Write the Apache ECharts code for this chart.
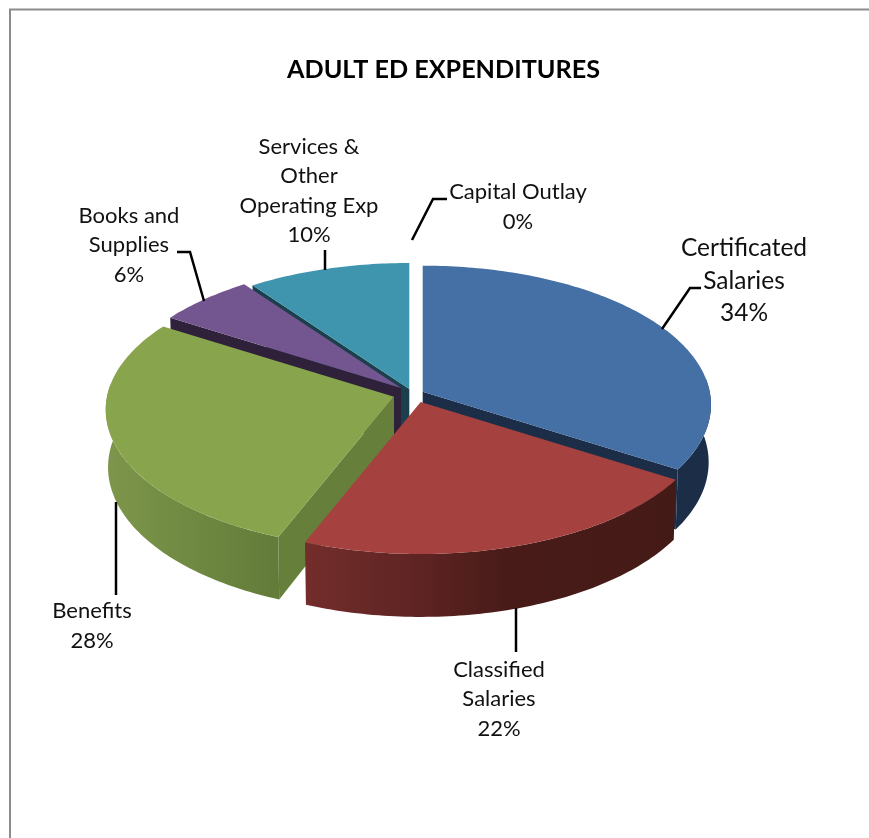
<!DOCTYPE html>
<html>
<head>
<meta charset="utf-8">
<title>Adult Ed Expenditures</title>
<style>
  html, body { margin: 0; padding: 0; background: #fff; }
  #chart { width: 869px; height: 838px; }
</style>
<script src="https://cdn.jsdelivr.net/npm/echarts@6/dist/echarts.min.js"></script>
</head>
<body>
<div id="chart"></div>
<script>
// Expenditure shares, clockwise from twelve o'clock
const categories = ['Certificated\nSalaries', 'Classified\nSalaries', 'Benefits',
  'Books and\nSupplies', 'Services &\nOther\nOperating Exp', 'Capital Outlay'];
const values = [34, 22, 28, 6, 10, 0];

const topColors  = ['#4570A6', '#A5423F', '#88A44C', '#735590', '#3F95AE', '#C0C0C0'];
const faceColors = ['#1B2D47', '#441A17', '#667F3B', '#2E2139', '#1B3F4C', '#808080'];
const wallStops = [
  [[0, '#1B2D47'], [1, '#1B2D47']],
  [[0, '#732D2B'], [0.3, '#5E2423'], [0.55, '#481B18'], [1, '#441A17']],
  [[0, '#7E964B'], [0.5, '#6F8942'], [1, '#637B39']],
  [[0, '#2E2139'], [1, '#2E2139']],
  [[0, '#1B3F4C'], [1, '#1B3F4C']],
  [[0, '#808080'], [1, '#808080']]
];

// Pie projection: a tilted disc seen in mild perspective
const pie = { cx: 410, cy: 395, radius: 287, tilt: 137.8, depth: 57, perspective: 0.0935, bottomScale: 0.992 };
// Explosion of each slice away from the pie's centre, in pixels
const sliceShift = [[12.7, -3.3], [10.7, 7], [-16, 1.7], [-9, -7], [-0.7, -6], [0, 0]];
// Farther slices are painted first so nearer ones cover them
const paintOrder = [4, 3, 0, 2, 1, 5];

// Label anchors and their elbow leader lines
const labelLayout = [
  { x: 744, y: 281, size: 24.5, lineHeight: 32.5, leader: [[662, 329], [690, 288], [701, 288]] },
  { x: 499, y: 699, size: 22, lineHeight: 29.5, leader: [[516, 608], [516, 652]] },
  { x: 92,  y: 626, size: 22, lineHeight: 29.5, leader: [[116, 502], [116, 595]] },
  { x: 129, y: 245, size: 22, lineHeight: 29.5, leader: [[204, 301], [190, 252], [177, 252]] },
  { x: 309, y: 191, size: 22, lineHeight: 29.5, leader: [[325, 270], [325, 250]] },
  { x: 518, y: 207, size: 22, lineHeight: 29.5, leader: [[412, 240], [433, 199], [447, 199]] }
];

const total = values.reduce((a, b) => a + b, 0);
const startAngles = [];
values.reduce((sum, v, i) => { startAngles[i] = sum / total * 360; return sum + v; }, 0);

const rad = d => d * Math.PI / 180;

// Projects a disc point (polar angle, radial fraction) at the top or bottom of the slab
function project(i, angle, r, isBottom) {
  const X = r * Math.sin(rad(angle));
  const Y = -r * Math.cos(rad(angle));
  const s = 1 / (1 - pie.perspective * Y);
  const sx = isBottom ? pie.bottomScale : 1;
  return [
    pie.cx + sliceShift[i][0] + pie.radius * X * s * sx,
    pie.cy + sliceShift[i][1] + (pie.tilt * Y + (isBottom ? pie.depth : 0)) * s
  ];
}

function arc(i, a0, a1, isBottom) {
  const pts = [];
  const steps = Math.max(2, Math.ceil(Math.abs(a1 - a0)));
  for (let k = 0; k <= steps; k++) {
    pts.push(project(i, a0 + (a1 - a0) * k / steps, 1, isBottom));
  }
  return pts;
}

function cutFace(i, angle) {
  return {
    type: 'polygon',
    shape: { points: [project(i, angle, 0, false), project(i, angle, 1, false),
                      project(i, angle, 1, true), project(i, angle, 0, true)] },
    style: { fill: faceColors[i] }
  };
}

// Only the part of the rim turned toward the viewer is drawn
const rimLimit = Math.asin(pie.perspective) * 180 / Math.PI;
const rimFrom = 90 - rimLimit, rimTo = 270 + rimLimit;

function renderSlice(params, api) {
  const i = api.value(0);
  const v = api.value(1);
  if (!v) return { type: 'group', children: [] };
  const a0 = startAngles[i];
  const a1 = a0 + v / total * 360;
  const children = [];

  if (Math.sin(rad(a0)) < -1e-6) children.push(cutFace(i, a0));
  if (Math.sin(rad(a1)) > 1e-6) children.push(cutFace(i, a1));

  const w0 = Math.max(a0, rimFrom), w1 = Math.min(a1, rimTo);
  if (w1 > w0) {
    children.push({
      type: 'polygon',
      shape: { points: arc(i, w0, w1, false).concat(arc(i, w1, w0, true)) },
      style: { fill: new echarts.graphic.LinearGradient(0, 0, 1, 0,
        wallStops[i].map(s => ({ offset: s[0], color: s[1] }))) }
    });
  }

  children.push({
    type: 'polygon',
    shape: { points: [project(i, a0, 0, false)].concat(arc(i, a0, a1, false)) },
    style: { fill: topColors[i] }
  });
  return { type: 'group', children };
}

function renderLabel(params, api) {
  const i = api.value(0);
  const layout = labelLayout[i];
  return {
    type: 'group',
    children: [
      {
        type: 'polyline',
        shape: { points: layout.leader },
        style: { stroke: '#000', lineWidth: 2.5, fill: 'none' }
      },
      {
        type: 'text',
        style: {
          x: layout.x, y: layout.y,
          text: categories[i] + '\n' + api.value(1) + '%',
          align: 'center', verticalAlign: 'middle',
          fontFamily: 'Lato', fontSize: layout.size, lineHeight: layout.lineHeight,
          fill: '#111'
        }
      }
    ]
  };
}

const chart = echarts.init(document.getElementById('chart'), null, { renderer: 'canvas' });
chart.setOption({
  animation: false,
  backgroundColor: '#fff',
  title: {
    text: 'ADULT ED EXPENDITURES',
    left: 282, top: 52,
    textStyle: { fontFamily: 'Lato', fontWeight: 'bold', fontSize: 25.2, color: '#000' }
  },
  graphic: [{
    type: 'polyline',
    shape: { points: [[10, 838], [10, 9.5], [869, 9.5]] },
    style: { stroke: '#8c8c8c', lineWidth: 2, fill: 'none' }
  }],
  series: [
    {
      type: 'custom',
      coordinateSystem: 'none',
      renderItem: renderSlice,
      data: paintOrder.map(i => [i, values[i]]),
      silent: true
    },
    {
      type: 'custom',
      coordinateSystem: 'none',
      renderItem: renderLabel,
      data: values.map((v, i) => [i, v]),
      silent: true,
      z: 5
    }
  ]
});
</script>
</body>
</html>
